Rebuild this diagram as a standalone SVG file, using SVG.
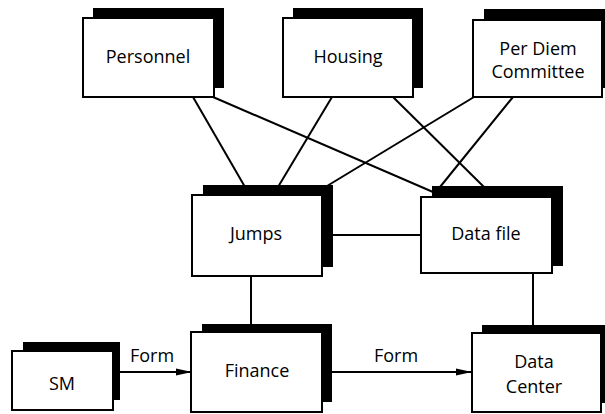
<svg xmlns="http://www.w3.org/2000/svg" width="605" height="414" viewBox="0 0 605 414">
<style>
.sh{fill:#000}
.fr{fill:#fff;stroke:#000;stroke-width:2}
.t{font-family:"Open Sans","DejaVu Sans",sans-serif;font-size:18px;font-weight:500;fill:#000;text-anchor:middle}
.c{stroke:#000;stroke-width:2;fill:none}
.lb{font-family:"Open Sans","DejaVu Sans",sans-serif;font-size:18px;font-weight:500;fill:#000;text-anchor:middle}
</style>
<defs>
<marker id="ah" markerWidth="16" markerHeight="10" refX="15" refY="5" orient="auto" markerUnits="userSpaceOnUse">
<path d="M0,1.5 L16,5 L0,8.5 Z" fill="#000"/>
</marker>
</defs>
<rect width="605" height="414" fill="#fff"/>
<g id="connectors">
<line class="c" x1="193" y1="97" x2="245" y2="187"/>
<line class="c" x1="213" y1="97" x2="433" y2="192"/>
<line class="c" x1="332" y1="97" x2="278" y2="187"/>
<line class="c" x1="393" y1="97" x2="484" y2="187"/>
<line class="c" x1="474" y1="97" x2="327" y2="186"/>
<line class="c" x1="513" y1="97" x2="440" y2="187"/>
<line class="c" x1="322" y1="235" x2="421" y2="235"/>
<line class="c" x1="251" y1="276" x2="251" y2="324"/>
<line class="c" x1="533" y1="274" x2="533" y2="325"/>
<line class="c" x1="113" y1="372" x2="191" y2="372" marker-end="url(#ah)"/>
<line class="c" x1="322" y1="372" x2="471" y2="372" marker-end="url(#ah)"/>
<text class="lb" x="152" y="362">Form</text>
<text class="lb" x="396" y="362">Form</text>
</g>
<g id="personnel">
<rect class="sh" x="93" y="8" width="131" height="80"/>
<rect class="fr" x="83" y="18" width="131" height="79"/>
<text class="t" x="148" y="63">Personnel</text>
</g>
<g id="housing">
<rect class="sh" x="293" y="8" width="130" height="80"/>
<rect class="fr" x="283" y="18" width="130" height="79"/>
<text class="t" x="348" y="63">Housing</text>
</g>
<g id="perdiem">
<rect class="sh" x="484" y="9" width="130" height="79"/>
<rect class="fr" x="473" y="20" width="129" height="77"/>
<text class="t" x="538" y="55">Per Diem</text>
<text class="t" x="538" y="78">Committee</text>
</g>
<g id="jumps">
<rect class="sh" x="203" y="185" width="130" height="82"/>
<rect class="fr" x="192" y="195" width="130" height="81"/>
<text class="t" x="256" y="240">Jumps</text>
</g>
<g id="datafile">
<rect class="sh" x="432" y="186" width="131" height="80"/>
<rect class="fr" x="421" y="197" width="131" height="76"/>
<text class="t" x="486" y="240">Data file</text>
</g>
<g id="sm">
<rect class="sh" x="23" y="342" width="97" height="58"/>
<rect class="fr" x="12" y="351" width="101" height="59"/>
<text class="t" x="62" y="390">SM</text>
</g>
<g id="finance">
<rect class="sh" x="202" y="324" width="130" height="78"/>
<rect class="fr" x="191" y="332" width="131" height="80"/>
<text class="t" x="257" y="377">Finance</text>
</g>
<g id="datacenter">
<rect class="sh" x="482" y="325" width="130" height="78"/>
<rect class="fr" x="472" y="333" width="129" height="79"/>
<text class="t" x="534" y="368">Data</text>
<text class="t" x="534" y="393">Center</text>
</g>
</svg>
